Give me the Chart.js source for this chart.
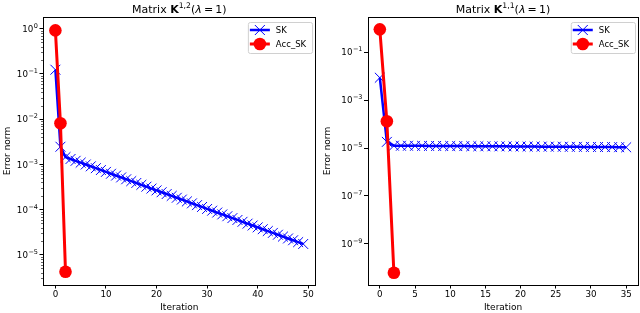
<!DOCTYPE html>
<html>
<head>
<meta charset="utf-8">
<script src="https://cdn.jsdelivr.net/npm/chart.js@4.4.1/dist/chart.umd.min.js"></script>
<style>
  html, body { margin: 0; padding: 0; background: #fff; }
  #wrap { position: relative; width: 640px; height: 313px; }
  canvas { position: absolute; top: 0; }
</style>
</head>
<body>
<div id="wrap">
  <canvas id="leftChart" width="320" height="313" style="left:0"></canvas>
  <canvas id="rightChart" width="320" height="313" style="left:320px"></canvas>
</div>
<script>
// --- data ---
const leftSK = [
  0.124, 2.45e-3, 1.445e-3, 1.315e-3, 1.197e-3, 1.090e-3, 9.92e-4, 9.03e-4, 8.22e-4, 7.48e-4,
  6.81e-4, 6.19e-4, 5.64e-4, 5.13e-4, 4.67e-4, 4.25e-4, 3.87e-4, 3.52e-4, 3.20e-4, 2.91e-4,
  2.65e-4, 2.41e-4, 2.20e-4, 2.00e-4, 1.82e-4, 1.66e-4, 1.51e-4, 1.37e-4, 1.25e-4, 1.14e-4,
  1.03e-4, 9.42e-5, 8.57e-5, 7.80e-5, 7.10e-5, 6.46e-5, 5.88e-5, 5.35e-5, 4.87e-5, 4.43e-5,
  4.03e-5, 3.67e-5, 3.34e-5, 3.04e-5, 2.77e-5, 2.52e-5, 2.29e-5, 2.09e-5, 1.90e-5, 1.73e-5
];
const leftAccSK = [0.92, 8.1e-3, 4.2e-6];

const rightSK = [
  8.5e-3, 1.8e-5,
  1.25e-5, 1.24e-5, 1.24e-5, 1.23e-5, 1.23e-5, 1.22e-5, 1.22e-5, 1.21e-5, 1.21e-5, 1.20e-5,
  1.20e-5, 1.19e-5, 1.19e-5, 1.18e-5, 1.18e-5, 1.17e-5, 1.17e-5, 1.16e-5, 1.16e-5, 1.15e-5,
  1.15e-5, 1.14e-5, 1.14e-5, 1.13e-5, 1.13e-5, 1.12e-5, 1.12e-5, 1.11e-5, 1.11e-5, 1.10e-5,
  1.10e-5, 1.09e-5, 1.08e-5, 1.07e-5
];
const rightAccSK = [0.88, 1.3e-4, 6.3e-11];

const seriesNames = ['SK', 'Acc_SK'];

// --- ticks ---
const leftXTicks = [0, 10, 20, 30, 40, 50];
const rightXTicks = [0, 5, 10, 15, 20, 25, 30, 35];
const leftYExponents = [-5, -4, -3, -2, -1, 0];
const rightYExponents = [-9, -7, -5, -3, -1];
const leftMinorMultipliers = [2, 3, 4, 5, 6, 7, 8, 9];
const rightMinorMultipliers = [];

const BLUE = '#0000ff';
const RED = '#ff0000';
const FONT = "'DejaVu Sans', sans-serif";

function toPoints(values) {
  return values.map((v, i) => ({x: i, y: v}));
}

// title with bold K and superscript, like matplotlib mathtext
const titlePlugin = {
  id: 'richTitle',
  afterDraw(chart, args, opts) {
    const {ctx, chartArea} = chart;
    const size = 11;
    const parts = [
      {t: 'Matrix ', f: `${size}px ${FONT}`, dy: 0},
      {t: 'K', f: `bold ${size}px ${FONT}`, dy: 0},
      {t: opts.sup, f: `${size * 0.7}px ${FONT}`, dy: -4.5},
      {t: '(', f: `${size}px ${FONT}`, dy: 0},
      {t: '\u03BB', f: `italic ${size}px ${FONT}`, dy: 0},
      {t: '\u2009=\u20091)', f: `${size}px ${FONT}`, dy: 0},
    ];
    ctx.save();
    let total = 0;
    parts.forEach(p => { ctx.font = p.f; p.w = ctx.measureText(p.t).width; total += p.w; });
    let x = (chartArea.left + chartArea.right) / 2 - total / 2;
    ctx.fillStyle = '#000';
    ctx.textBaseline = 'alphabetic';
    ctx.textAlign = 'left';
    parts.forEach(p => { ctx.font = p.f; ctx.fillText(p.t, x, 12.5 + p.dy); x += p.w; });
    ctx.restore();
  }
};

// axes frame, minor log ticks and 10^n tick labels
const framePlugin = {
  id: 'frame',
  afterDatasetsDraw(chart, args, opts) {
    const {ctx, chartArea: a, scales} = chart;
    ctx.save();
    ctx.strokeStyle = '#000';
    ctx.lineWidth = 1;
    ctx.strokeRect(Math.round(a.left) + 0.5, Math.round(a.top) + 0.5,
                   Math.round(a.right) - Math.round(a.left) - 1, Math.round(a.bottom) - Math.round(a.top));
    const y = scales.y;
    ctx.lineWidth = 0.6;
    const lo = Math.floor(Math.log10(y.min)), hi = Math.ceil(Math.log10(y.max));
    for (let e = lo; e <= hi; e++) {
      opts.minor.forEach(m => {
        const v = m * Math.pow(10, e);
        if (v < y.min || v > y.max) return;
        const py = Math.round(y.getPixelForValue(v)) + 0.5;
        ctx.beginPath();
        ctx.moveTo(a.left, py);
        ctx.lineTo(a.left - 2, py);
        ctx.stroke();
      });
    }
    // labels: "10" with a raised exponent
    ctx.fillStyle = '#000';
    ctx.textBaseline = 'alphabetic';
    ctx.textAlign = 'left';
    opts.exponents.forEach(e => {
      const py = y.getPixelForValue(Math.pow(10, e));
      const expText = (e < 0 ? '\u2212' : '') + Math.abs(e);
      ctx.font = `6.5px ${FONT}`;
      const ew = ctx.measureText(expText).width;
      ctx.font = `8.7px ${FONT}`;
      const bw = ctx.measureText('10').width;
      const right = a.left - 5;
      const x0 = right - ew - bw - 0.5;
      ctx.fillText('10', x0, py + 3.2);
      ctx.font = `6.5px ${FONT}`;
      ctx.fillText(expText, x0 + bw + 0.5, py - 0.8);
    });
    ctx.restore();
  }
};

// legend box in the upper right corner
const legendPlugin = {
  id: 'boxLegend',
  afterDraw(chart) {
    const {ctx, chartArea: a} = chart;
    const ds = chart.data.datasets;
    ctx.save();
    ctx.font = `8.5px ${FONT}`;
    const tw = Math.max(...ds.map(d => ctx.measureText(d.label).width));
    const w = 28 + tw + 6, h = 31;
    const bx = a.right - 3.5 - w, by = a.top + 5;
    ctx.beginPath();
    ctx.roundRect(bx + 0.5, by + 0.5, w, h, 2);
    ctx.fillStyle = 'rgba(255,255,255,0.8)';
    ctx.fill();
    ctx.strokeStyle = '#d0d0d0';
    ctx.lineWidth = 1;
    ctx.stroke();
    ds.forEach((d, i) => {
      const ry = by + 8 + i * 14;
      ctx.strokeStyle = d.borderColor;
      ctx.lineWidth = d.borderWidth;
      ctx.beginPath();
      ctx.moveTo(bx + 2, ry);
      ctx.lineTo(bx + 22, ry);
      ctx.stroke();
      const cx = bx + 12;
      if (d.pointStyle === 'crossRot') {
        const r = 5;
        ctx.lineWidth = d.pointBorderWidth;
        ctx.beginPath();
        ctx.moveTo(cx - r, ry - r); ctx.lineTo(cx + r, ry + r);
        ctx.moveTo(cx - r, ry + r); ctx.lineTo(cx + r, ry - r);
        ctx.stroke();
      } else {
        ctx.fillStyle = d.pointBackgroundColor;
        ctx.beginPath();
        ctx.arc(cx, ry, d.pointRadius, 0, Math.PI * 2);
        ctx.fill();
      }
      ctx.fillStyle = '#000';
      ctx.textBaseline = 'middle';
      ctx.fillText(d.label, bx + 28, ry + 0.5);
    });
    ctx.restore();
  }
};

function makeChart(id, cfg) {
  const yExp = cfg.yExponents;
  return new Chart(document.getElementById(id), {
    type: 'line',
    data: {
      datasets: [
        {
          label: seriesNames[0],
          data: toPoints(cfg.sk),
          borderColor: BLUE,
          backgroundColor: BLUE,
          borderWidth: 2.5,
          pointStyle: 'crossRot',
          pointRadius: 7,
          pointBorderWidth: 1,
          pointBorderColor: BLUE,
          pointBackgroundColor: BLUE,
          tension: 0,
          order: 1,
        },
        {
          label: seriesNames[1],
          data: toPoints(cfg.acc),
          borderColor: RED,
          backgroundColor: RED,
          borderWidth: 3,
          pointStyle: 'circle',
          pointRadius: 6.3,
          pointBorderWidth: 0,
          pointBorderColor: RED,
          pointBackgroundColor: RED,
          tension: 0,
          order: 0,
        },
      ],
    },
    options: {
      responsive: false,
      animation: false,
      devicePixelRatio: 1,
      layout: {autoPadding: false, padding: {top: 17, right: cfg.padRight, left: 0, bottom: 0}},
      plugins: {
        legend: {display: false},
        tooltip: {enabled: false},
        richTitle: {sup: cfg.titleSup},
        frame: {minor: cfg.minor, exponents: yExp},
      },
      scales: {
        x: {
          type: 'linear',
          min: cfg.xMin,
          max: cfg.xMax,
          afterBuildTicks: s => { s.ticks = cfg.xTicks.map(v => ({value: v})); },
          afterFit: s => { s.height = 28; s.paddingLeft = 0; s.paddingRight = 0; },
          border: {display: false},
          grid: {drawOnChartArea: false, tickLength: 3.5, color: '#000', tickColor: '#000', tickWidth: 1},
          ticks: {padding: 1.5, color: '#000', font: {family: FONT, size: 8.7}, maxRotation: 0},
          title: {display: true, text: 'Iteration', color: '#000', font: {family: FONT, size: 9}, padding: 0},
        },
        y: {
          type: 'logarithmic',
          min: cfg.yMin,
          max: cfg.yMax,
          afterBuildTicks: s => { s.ticks = yExp.map(e => ({value: Math.pow(10, e), major: true})); },
          afterFit: s => { s.width = cfg.yWidth; s.paddingTop = 0; s.paddingBottom = 0; },
          border: {display: false},
          grid: {drawOnChartArea: false, tickLength: 3.5, color: '#000', tickColor: '#000', tickWidth: 1},
          ticks: {display: false},
          title: {display: true, text: 'Error norm', color: '#000', font: {family: FONT, size: 9}, padding: {top: 2, bottom: 0}},
        },
      },
    },
    plugins: [framePlugin, legendPlugin, titlePlugin],
  });
}

makeChart('leftChart', {
  sk: leftSK, acc: leftAccSK, titleSup: '1,2',
  xMin: -2.45, xMax: 51.45, xTicks: leftXTicks,
  yMin: Math.pow(10, -5.67), yMax: Math.pow(10, 0.26), yExponents: leftYExponents,
  minor: leftMinorMultipliers, yWidth: 43, padRight: 4.4,
});

makeChart('rightChart', {
  sk: rightSK, acc: rightAccSK, titleSup: '1,1',
  xMin: -1.75, xMax: 36.75, xTicks: rightXTicks,
  yMin: Math.pow(10, -10.71), yMax: Math.pow(10, 0.46), yExponents: rightYExponents,
  minor: rightMinorMultipliers, yWidth: 47.5, padRight: 1.5,
});
</script>
</body>
</html>
